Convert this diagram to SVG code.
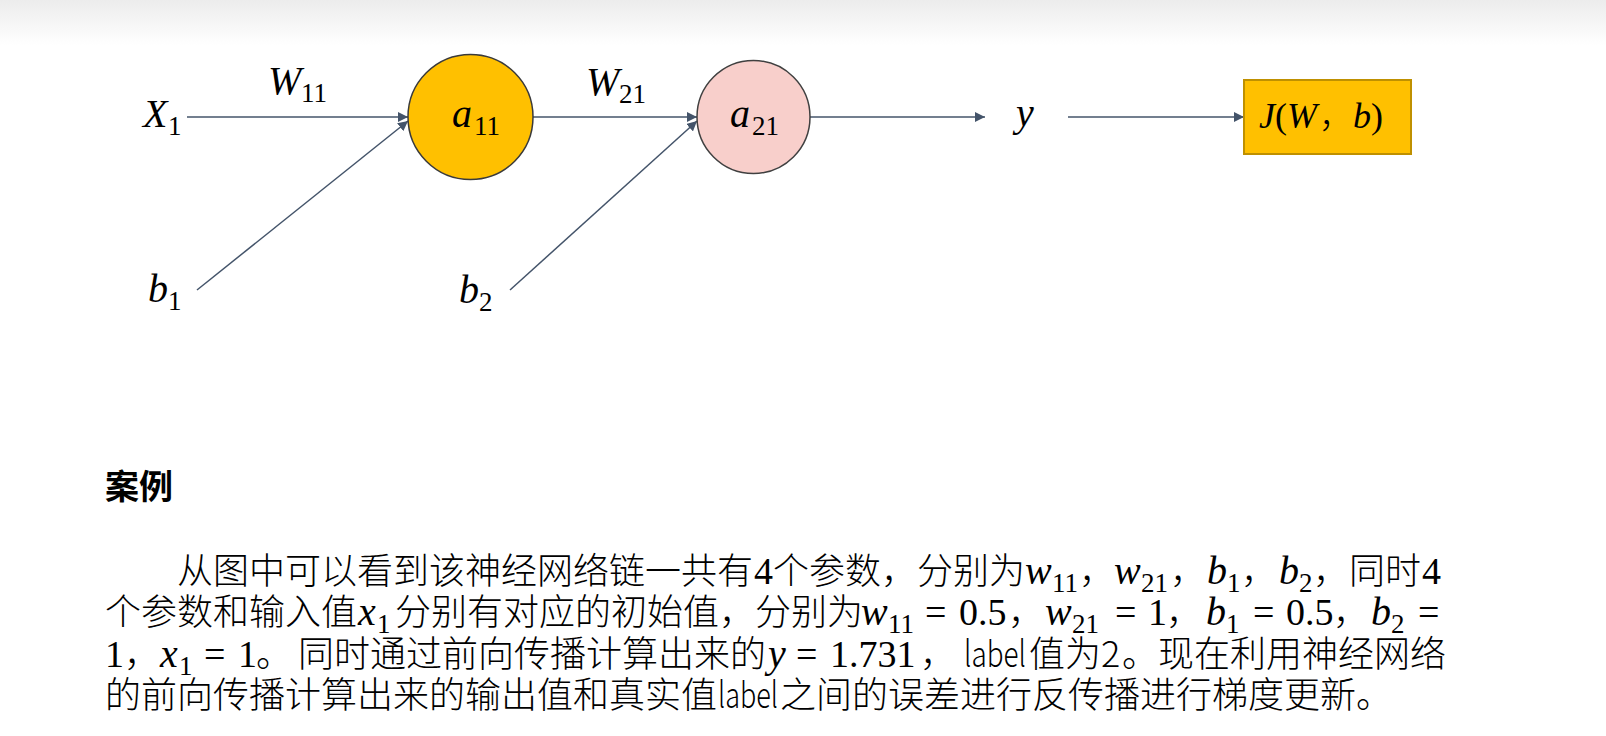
<svg xmlns="http://www.w3.org/2000/svg" width="1606" height="736" viewBox="0 0 1606 736">
<defs>
<linearGradient id="top" x1="0" y1="0" x2="0" y2="1">
<stop offset="0" stop-color="#ececec"/>
<stop offset="1" stop-color="#ffffff"/>
</linearGradient>
<marker id="ah" viewBox="0 0 10 10" refX="10" refY="5" markerWidth="10" markerHeight="10" markerUnits="userSpaceOnUse" orient="auto">
<path d="M0,0 L10,5 L0,10 z" fill="#44546a"/>
</marker>
<style>
.cjk{font-family:"Noto Sans CJK SC","Noto Sans CJK JP",sans-serif;font-size:36px;font-weight:300;font-style:normal;fill:#000}
.h{font-family:"Noto Sans CJK SC",sans-serif;font-size:34px;font-weight:bold;fill:#000}
.m{font-family:"Liberation Serif",serif;font-style:italic;font-size:40px;font-weight:normal}
.n{font-family:"Liberation Serif",serif;font-style:normal;font-size:38px;font-weight:normal}
.s{font-family:"Liberation Serif",serif;font-style:normal;font-size:27px;font-weight:normal}
.dm{font-family:"Liberation Serif",serif;font-style:italic;font-size:40px;fill:#000}
.dn{font-family:"Liberation Serif",serif;font-style:normal;font-size:36px;fill:#000}
.ds{font-family:"Liberation Serif",serif;font-style:normal;font-size:27px;fill:#000}
.edge{stroke:#44546a;stroke-width:1.5;fill:none;marker-end:url(#ah)}
</style>
</defs>
<rect x="0" y="0" width="1606" height="736" fill="#ffffff"/>
<rect x="0" y="0" width="1606" height="45" fill="url(#top)"/>

<g id="connectors">
<line class="edge" x1="187" y1="117" x2="408" y2="117"/>
<line class="edge" x1="197" y1="290" x2="408" y2="121"/>
<line class="edge" x1="533" y1="117" x2="697" y2="117"/>
<line class="edge" x1="510" y1="290" x2="697" y2="121"/>
<line class="edge" x1="810" y1="117" x2="985" y2="117"/>
<line class="edge" x1="1068" y1="117" x2="1244" y2="117"/>
<text id="label-w11" class="dm" x="268" y="94">W<tspan class="ds" x="301" y="102">11</tspan></text>
<text id="label-w21" class="dm" x="586" y="95">W<tspan class="ds" x="619" y="103">21</tspan></text>
</g>

<g id="node-x1"><text class="dm" x="143" y="127">X<tspan class="ds" x="168" y="135">1</tspan></text></g>
<g id="node-b1"><text class="dm" x="148" y="302">b<tspan class="ds" x="168" y="310">1</tspan></text></g>
<g id="node-b2"><text class="dm" x="459" y="303">b<tspan class="ds" x="479" y="311">2</tspan></text></g>
<g id="node-a11">
<circle cx="470.5" cy="117" r="62.5" fill="#ffc000" stroke="#3a3a3a" stroke-width="1.5"/>
<text class="dm" x="452" y="127">a<tspan class="ds" x="474" y="135">11</tspan></text>
</g>
<g id="node-a21">
<circle cx="753.5" cy="117" r="56.5" fill="#f8cfcb" stroke="#404040" stroke-width="1.5"/>
<text class="dm" x="730" y="127">a<tspan class="ds" x="752" y="135">21</tspan></text>
</g>
<g id="node-y"><text class="dm" x="1016" y="126">y</text></g>
<g id="node-j">
<rect x="1244" y="80" width="167" height="74" fill="#ffc000" stroke="#bf9000" stroke-width="2"/>
<text class="dm" y="128" style="font-size:36px"><tspan x="1259">J</tspan><tspan class="dn" x="1275">(</tspan><tspan x="1287">W</tspan><tspan class="cjk" style="font-size:34px" x="1319">，</tspan><tspan x="1353">b</tspan><tspan class="dn" x="1371">)</tspan></text>
</g>

<g id="text">
<text class="h" x="105" y="499">案例</text>
<text class="cjk" y="584"><tspan x="177" y="584">从图中可以看到该神经网络链一共有</tspan><tspan class="n" x="754" y="584">4</tspan><tspan x="773" y="584">个参数，分别为</tspan><tspan class="m" x="1025" y="584">w</tspan><tspan class="s" x="1052" y="592">11</tspan><tspan x="1079" y="584">，</tspan><tspan class="m" x="1114" y="584">w</tspan><tspan class="s" x="1141" y="592">21</tspan><tspan x="1170" y="584">，</tspan><tspan class="m" x="1207" y="584">b</tspan><tspan class="s" x="1227" y="592">1</tspan><tspan x="1241" y="584">，</tspan><tspan class="m" x="1279" y="584">b</tspan><tspan class="s" x="1299" y="592">2</tspan><tspan x="1313" y="584">，同时</tspan><tspan class="n" x="1422" y="584">4</tspan></text>
<text class="cjk" y="625"><tspan x="105" y="625">个参数和输入值</tspan><tspan class="m" x="358" y="625">x</tspan><tspan class="s" x="377" y="633">1</tspan><tspan x="395" y="625">分别有对应的初始值，分别为</tspan><tspan class="m" x="861" y="625">w</tspan><tspan class="s" x="888" y="633">11</tspan><tspan class="n" x="925" y="625">=</tspan><tspan class="n" x="959" y="625">0.5</tspan><tspan x="1008" y="625">，</tspan><tspan class="m" x="1045" y="625">w</tspan><tspan class="s" x="1072" y="633">21</tspan><tspan class="n" x="1115" y="625">=</tspan><tspan class="n" x="1148" y="625">1</tspan><tspan x="1166" y="625">，</tspan><tspan class="m" x="1206" y="625">b</tspan><tspan class="s" x="1226" y="633">1</tspan><tspan class="n" x="1253" y="625">=</tspan><tspan class="n" x="1286" y="625">0.5</tspan><tspan x="1333" y="625">，</tspan><tspan class="m" x="1371" y="625">b</tspan><tspan class="s" x="1391" y="633">2</tspan><tspan class="n" x="1418" y="625">=</tspan></text>
<text class="cjk" y="667"><tspan class="n" x="105" y="667">1</tspan><tspan x="124" y="667">，</tspan><tspan class="m" x="160" y="667">x</tspan><tspan class="s" x="179" y="675">1</tspan><tspan class="n" x="204" y="667">=</tspan><tspan class="n" x="238" y="667">1</tspan><tspan x="256" y="667">。</tspan><tspan x="298" y="667">同时通过前向传播计算出来的</tspan><tspan class="m" x="768" y="667">y</tspan><tspan class="n" x="796" y="667">=</tspan><tspan class="n" x="830" y="667">1.731</tspan><tspan x="920" y="667">，</tspan></text>
<text class="cjk" x="964" y="667" textLength="62" lengthAdjust="spacingAndGlyphs">label</text>
<text class="cjk" y="667"><tspan x="1029" y="667">值为</tspan><tspan x="1101" y="667">2</tspan><tspan x="1122" y="667">。现在利用神经网络</tspan></text>
<text class="cjk" x="105" y="708">的前向传播计算出来的输出值和真实值</text>
<text class="cjk" x="718" y="708" textLength="60" lengthAdjust="spacingAndGlyphs">label</text>
<text class="cjk" x="780" y="708">之间的误差进行反传播进行梯度更新。</text>
</g>
</svg>
